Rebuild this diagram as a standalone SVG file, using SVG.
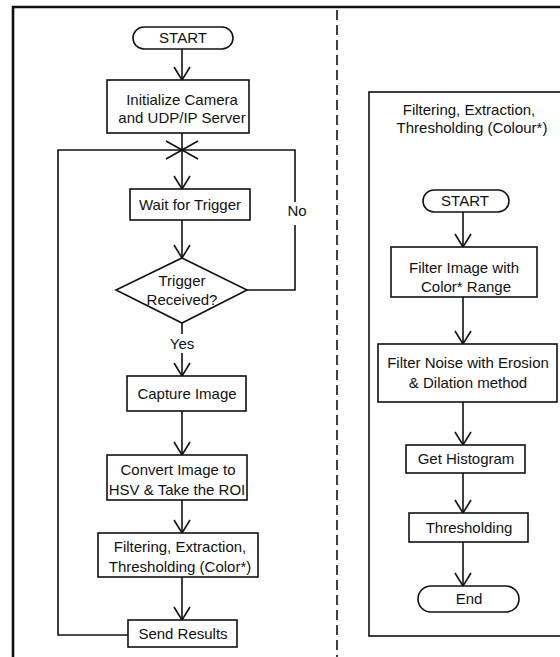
<svg xmlns="http://www.w3.org/2000/svg" width="560" height="657" viewBox="0 0 560 657">
<defs>
<style>
.b{fill:#fff;stroke:#111;stroke-width:1.6}
.l{fill:none;stroke:#111;stroke-width:1.6}
.t{font-family:"Liberation Sans",Arial,sans-serif;font-size:15px;fill:#111;text-anchor:middle}
.a{marker-end:url(#v)}
</style>
<marker id="v" markerUnits="userSpaceOnUse" orient="auto" refX="0" refY="0" markerWidth="20" markerHeight="20" overflow="visible">
<path d="M-13,-8 L0,0 L-13,8" fill="none" stroke="#111" stroke-width="1.6"/>
</marker>
</defs>
<rect width="560" height="657" fill="#fff"/>
<g id="frame">
<path d="M13,657 V7 H560" fill="none" stroke="#111" stroke-width="2.6"/>
<line x1="337" y1="10" x2="337" y2="657" stroke="#111" stroke-width="1.6" stroke-dasharray="10,5"/>
</g>
<g id="subprocess">
<rect class="l" x="369" y="92" width="300" height="544"/>
<text class="t" x="469" y="115">Filtering, Extraction,</text>
<text class="t" x="472" y="133">Thresholding (Colour*)</text>
</g>
<g id="connectors">
<line class="l a" x1="182" y1="49" x2="182" y2="80"/>
<line class="l a" x1="182" y1="133" x2="182" y2="189"/>
<path class="l" d="M166,141 L198,159 M166,159 L198,141"/>
<line class="l a" x1="182" y1="220" x2="182" y2="258"/>
<line class="l" x1="182" y1="323" x2="182" y2="334"/>
<line class="l a" x1="182" y1="353" x2="182" y2="376"/>
<line class="l a" x1="182" y1="411" x2="182" y2="455"/>
<line class="l a" x1="182" y1="500" x2="182" y2="533"/>
<line class="l a" x1="182" y1="577" x2="182" y2="620"/>
<path class="l" d="M128,635 H58 V150 H295 V202"/>
<path class="l" d="M295,225 V290 H247"/>
<text class="t" x="182" y="349">Yes</text>
<text class="t" x="297" y="216">No</text>
<line class="l a" x1="463" y1="212" x2="463" y2="247"/>
<line class="l a" x1="463" y1="297" x2="463" y2="344"/>
<line class="l a" x1="463" y1="402" x2="463" y2="445"/>
<line class="l a" x1="463" y1="473" x2="463" y2="513"/>
<line class="l a" x1="463" y1="542" x2="463" y2="586"/>
</g>
<g id="start1">
<rect class="b" x="133" y="27" width="100" height="22" rx="11"/>
<text class="t" x="183" y="43">START</text>
</g>
<g id="init">
<rect class="b" x="107" y="80" width="142" height="53"/>
<text class="t" x="182" y="105">Initialize Camera</text>
<text class="t" x="182" y="123">and UDP/IP Server</text>
</g>
<g id="wait">
<rect class="b" x="130" y="189" width="120" height="31"/>
<text class="t" x="190" y="210">Wait for Trigger</text>
</g>
<g id="decision">
<path class="b" d="M182,258 L247,290 L182,323 L116,290 Z"/>
<text class="t" x="182" y="286">Trigger</text>
<text class="t" x="182" y="305">Received?</text>
</g>
<g id="capture">
<rect class="b" x="127" y="376" width="119" height="35"/>
<text class="t" x="187" y="399">Capture Image</text>
</g>
<g id="convert">
<rect class="b" x="107" y="455" width="140" height="45"/>
<text class="t" x="178" y="475">Convert Image to</text>
<text class="t" x="177" y="495">HSV &amp; Take the ROI</text>
</g>
<g id="filtering">
<rect class="b" x="98" y="533" width="160" height="44"/>
<text class="t" x="180" y="552">Filtering, Extraction,</text>
<text class="t" x="180" y="572">Thresholding (Color*)</text>
</g>
<g id="send">
<rect class="b" x="128" y="620" width="109" height="27"/>
<text class="t" x="183" y="639">Send Results</text>
</g>
<g id="start2">
<rect class="b" x="423" y="190" width="86" height="22" rx="11"/>
<text class="t" x="465" y="206">START</text>
</g>
<g id="filterimage">
<rect class="b" x="391" y="247" width="146" height="50"/>
<text class="t" x="464" y="273">Filter Image with</text>
<text class="t" x="466" y="292">Color* Range</text>
</g>
<g id="filternoise">
<rect class="b" x="378" y="344" width="179" height="58"/>
<text class="t" x="468" y="368">Filter Noise with Erosion</text>
<text class="t" x="468" y="388">&amp; Dilation method</text>
</g>
<g id="histogram">
<rect class="b" x="406" y="445" width="119" height="28"/>
<text class="t" x="466" y="464">Get Histogram</text>
</g>
<g id="thresholding">
<rect class="b" x="409" y="513" width="119" height="29"/>
<text class="t" x="469" y="533">Thresholding</text>
</g>
<g id="end">
<rect class="b" x="418" y="586" width="101" height="26" rx="13"/>
<text class="t" x="469" y="604">End</text>
</g>
</svg>
